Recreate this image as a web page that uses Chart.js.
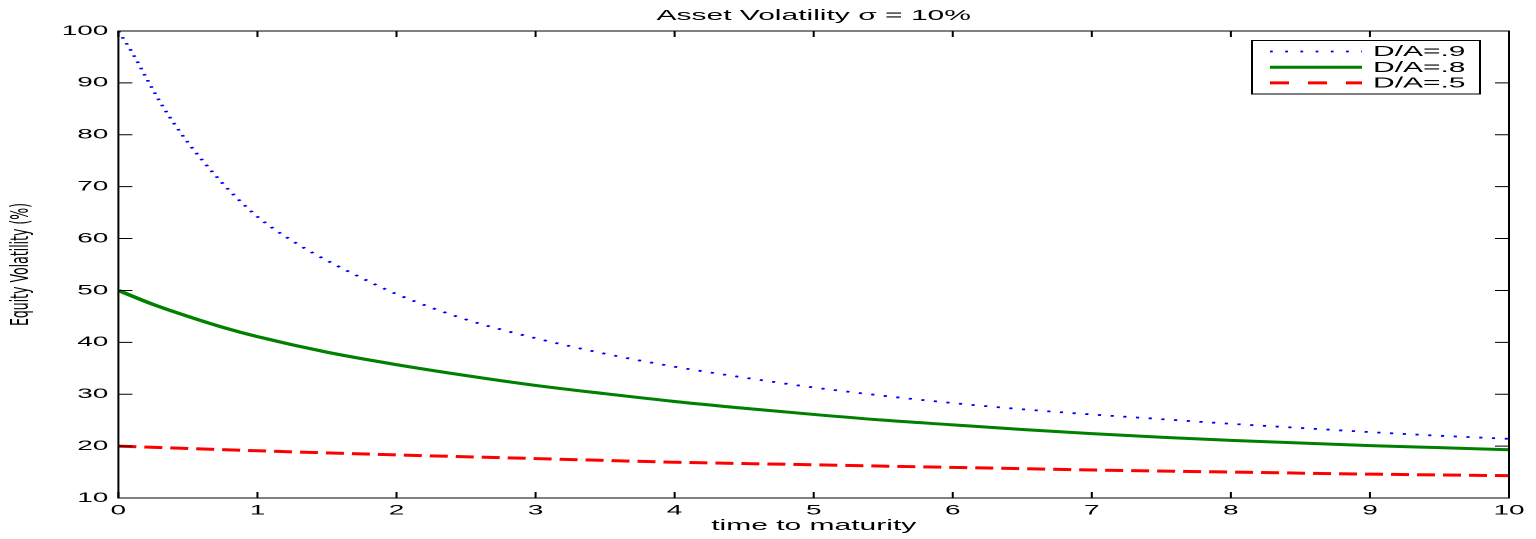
<!DOCTYPE html>
<html>
<head>
<meta charset="utf-8">
<script src="https://cdn.jsdelivr.net/npm/chart.js@4.4.1/dist/chart.umd.min.js"></script>
<style>
  html, body { margin: 0; padding: 0; background: #fff; overflow: hidden; }
  /* the reference is a matlab figure stretched 2x horizontally */
  #wrap { width: 768px; height: 539px; transform: scaleX(2); transform-origin: 0 0; }
</style>
</head>
<body>
<div id="wrap"><canvas id="c" width="768" height="539"></canvas></div>
<script>
// values
const xTicks = [0, 1, 2, 3, 4, 5, 6, 7, 8, 9, 10];
const yTicks = [10, 20, 30, 40, 50, 60, 70, 80, 90, 100];

const tBlue  = [0, 0.1, 0.2, 0.3, 0.4, 0.5, 0.6, 0.7, 0.8, 0.9, 1, 1.1, 1.2, 1.4, 1.75, 2, 2.5, 3, 3.5, 4, 4.5, 5, 5.5, 6, 6.5, 7, 7.5, 8, 8.5, 9, 9.5, 10];
const volDA9 = [100, 95.8, 91.0, 86.3, 82.2, 78.5, 75.2, 72.1, 69.2, 66.6, 64.2, 62.2, 60.4, 57.2, 52.4, 49.3, 44.4, 40.8, 37.8, 35.3, 33.2, 31.3, 29.7, 28.3, 27.1, 26.1, 25.2, 24.3, 23.5, 22.7, 22.0, 21.4];

const tGreen = [0, 0.25, 0.5, 0.75, 1, 1.5, 2, 2.5, 3, 3.5, 4, 4.5, 5, 5.5, 6, 6.5, 7, 7.5, 8, 8.5, 9, 9.5, 10];
const volDA8 = [50, 47.3, 45.0, 42.9, 41.1, 38.1, 35.7, 33.6, 31.7, 30.1, 28.6, 27.3, 26.1, 25.0, 24.1, 23.2, 22.4, 21.7, 21.1, 20.6, 20.1, 19.7, 19.3];

const tRed   = [0, 1, 2, 3, 4, 5, 6, 7, 8, 9, 10];
const volDA5 = [20.0, 19.1, 18.3, 17.6, 16.9, 16.4, 15.9, 15.4, 15.0, 14.6, 14.3];

const pts = (xs, ys) => xs.map((x, i) => ({ x, y: ys[i] }));

// box, inward ticks on all four sides, and the boxed legend in the upper right
const frame = {
  id: 'frame',
  afterDatasetsDraw(chart) {
    const { ctx, chartArea: a, scales: { x, y } } = chart;
    ctx.save();
    ctx.strokeStyle = '#000';
    ctx.lineWidth = 1;
    ctx.beginPath();
    for (const v of xTicks) {
      const px = x.getPixelForValue(v);
      ctx.moveTo(px, a.bottom); ctx.lineTo(px, a.bottom - 6);
      ctx.moveTo(px, a.top);    ctx.lineTo(px, a.top + 6);
    }
    for (const v of yTicks) {
      const py = y.getPixelForValue(v);
      ctx.moveTo(a.left, py);  ctx.lineTo(a.left + 7, py);
      ctx.moveTo(a.right, py); ctx.lineTo(a.right - 7, py);
    }
    ctx.stroke();
    ctx.strokeRect(a.left, a.top, a.right - a.left, a.bottom - a.top);

    // legend
    const lx = 626, ly = 40.5, lw = 114, lh = 53.5;
    ctx.fillStyle = '#fff';
    ctx.fillRect(lx, ly, lw, lh);
    ctx.strokeRect(lx, ly, lw, lh);
    ctx.font = '15px "Liberation Sans", Arial, sans-serif';
    ctx.textBaseline = 'middle';
    chart.data.datasets.forEach((ds, i) => {
      const ry = ly + 11 + i * 15.7;
      ctx.save();
      ctx.strokeStyle = ds.borderColor;
      ctx.lineWidth = ds.borderWidth;
      ctx.setLineDash(ds.legendDash || ds.borderDash || []);
      ctx.beginPath(); ctx.moveTo(lx + 9, ry); ctx.lineTo(lx + 55, ry); ctx.stroke();
      ctx.restore();
      ctx.fillStyle = '#000';
      ctx.fillText(ds.label, lx + 60.5, ry + 0.5);
    });
    ctx.restore();
  }
};

new Chart(document.getElementById('c'), {
  type: 'line',
  data: {
    datasets: [
      { label: 'D/A=.9', data: pts(tBlue, volDA9), borderColor: '#0000ff', borderWidth: 1.8,
        borderDash: [1.6, 4.8], legendDash: [1.4, 6.2], pointRadius: 0, cubicInterpolationMode: 'monotone' },
      { label: 'D/A=.8', data: pts(tGreen, volDA8), borderColor: '#008000', borderWidth: 3,
        pointRadius: 0, cubicInterpolationMode: 'monotone' },
      { label: 'D/A=.5', data: pts(tRed, volDA5), borderColor: '#ff0000', borderWidth: 3,
        borderDash: [9, 4], legendDash: [9.5, 9.5], pointRadius: 0, cubicInterpolationMode: 'monotone' },
    ],
  },
  options: {
    responsive: false,
    devicePixelRatio: 2,
    animation: false,
    layout: { padding: { left: 0, right: 13.5, top: 0, bottom: 0 } },
    scales: {
      x: {
        type: 'linear', min: 0, max: 10,
        afterFit: (s) => { s.height = 41; },
        grid: { display: false, drawTicks: false },
        border: { display: false },
        ticks: { stepSize: 1, autoSkip: false, maxRotation: 0, padding: 4, color: '#000',
                 font: { family: '"Liberation Sans", Arial, sans-serif', size: 14 } },
        title: { display: true, text: 'time to maturity', color: '#000', padding: { top: 0, bottom: 4 },
                 font: { family: '"Liberation Sans", Arial, sans-serif', size: 15 } },
      },
      y: {
        min: 10, max: 100,
        afterFit: (s) => { s.width = 59.2; },
        grid: { display: false, drawTicks: false },
        border: { display: false },
        ticks: { stepSize: 10, autoSkip: false, padding: 5, color: '#000',
                 font: { family: '"Liberation Sans", Arial, sans-serif', size: 14 } },
        title: { display: true, text: 'Equity Volatility (%)', color: '#000', padding: { top: 3, bottom: 0 },
                 font: { family: '"DejaVu Sans", sans-serif', size: 12.5 } },
      },
    },
    plugins: {
      title: { display: true, fullSize: false, text: 'Asset Volatility σ = 10%', color: '#000',
               padding: { top: 7, bottom: 6 },
               font: { family: '"Liberation Sans", Arial, sans-serif', size: 15, weight: 'normal' } },
      legend: { display: false },
      tooltip: { enabled: false },
    },
  },
  plugins: [frame],
});
</script>
</body>
</html>
